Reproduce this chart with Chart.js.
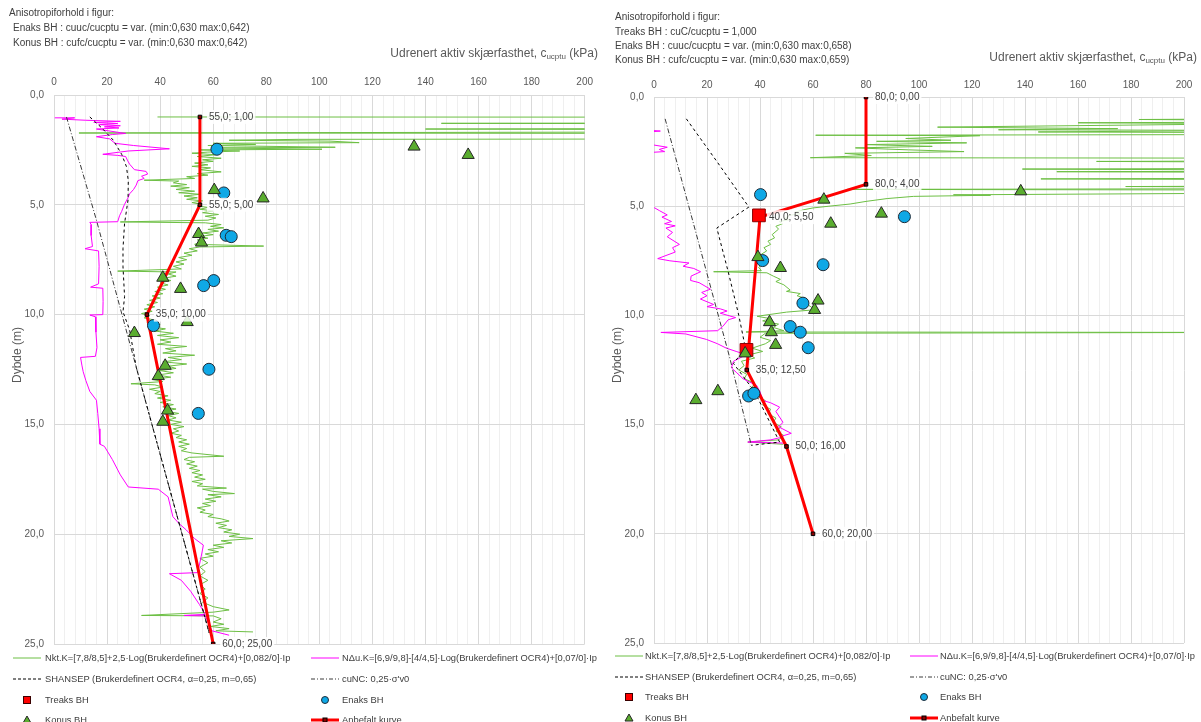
<!DOCTYPE html>
<html>
<head>
<meta charset="utf-8">
<script src="https://cdn.jsdelivr.net/npm/chart.js@4.4.1/dist/chart.umd.min.js"></script>
<style>
  html, body { margin: 0; padding: 0; background: #fff; }
  body { width: 1201px; height: 722px; position: relative; overflow: hidden;
         font-family: "Liberation Sans", Arial, sans-serif; }
  .panel { position: absolute; top: 0; height: 722px; }
  .panel canvas { position: absolute; left: 0; top: 0; }
  .hdr { position: absolute; font-size: 10px; color: #404040; white-space: nowrap; line-height: 12px; }
  .xt { position: absolute; font-size: 12px; color: #595959; white-space: nowrap; line-height: 14px; text-align: right; }
  .xt sub { font-size: 8px; vertical-align: -2px; line-height: 0; }
  .yt { position: absolute; font-size: 12px; color: #595959; white-space: nowrap; line-height: 14px;
        transform: translate(-50%, -50%) rotate(-90deg); }
  .lg { position: absolute; font-size: 9.35px; color: #404040; white-space: nowrap; line-height: 12px; }
  .sym { position: absolute; line-height: 0; }
  .sym svg { display: block; }
</style>
</head>
<body>
<div class="panel" id="pL" style="left:0;width:600px;">
  <canvas id="cL" width="600" height="722"></canvas>
  <div class="hdr" style="left:9px;top:7px;">Anisotropiforhold i figur:</div>
  <div class="hdr" style="left:13px;top:22px;">Enaks BH : cuuc/cucptu = var. (min:0,630 max:0,642)</div>
  <div class="hdr" style="left:13px;top:37px;">Konus BH : cufc/cucptu = var. (min:0,630 max:0,642)</div>
  <div class="xt" style="right:2px;top:46px;">Udrenert aktiv skjærfasthet, c<sub>ucptu</sub> (kPa)</div>
  <div class="yt" style="left:17px;top:355px;">Dybde (m)</div>
</div>
<div class="panel" id="pR" style="left:600px;width:601px;">
  <canvas id="cR" width="601" height="722"></canvas>
  <div class="hdr" style="left:15px;top:11px;">Anisotropiforhold i figur:</div>
  <div class="hdr" style="left:15px;top:26px;">Treaks BH : cuC/cucptu = 1,000</div>
  <div class="hdr" style="left:15px;top:40px;">Enaks BH : cuuc/cucptu = var. (min:0,630 max:0,658)</div>
  <div class="hdr" style="left:15px;top:54px;">Konus BH : cufc/cucptu = var. (min:0,630 max:0,659)</div>
  <div class="xt" style="right:4px;top:50px;">Udrenert aktiv skjærfasthet, c<sub>ucptu</sub> (kPa)</div>
  <div class="yt" style="left:17px;top:355px;">Dybde (m)</div>
</div>
<script>
// ---------- axis settings ----------
const xTickStep = 4;          // minor grid every 4 kPa
const xLabelStep = 20;        // labelled ticks
const xMin = 0, xMax = 200;
const yMin = 0, yMax = 25, yStep = 5;

// ---------- left profile (depth in m, strength in kPa) ----------
const leftRecV = [55, 55, 35, 60];
const leftRecD = [1, 5, 10, 25];

const leftEnaksV = [61.4, 64.0, 64.9, 66.8, 60.2, 56.4, 37.5, 58.4, 54.4];
const leftEnaksD = [2.47, 4.46, 6.39, 6.45, 8.45, 8.68, 10.5, 12.49, 14.5];

const leftKonusV = [135.7, 156.1, 60.4, 78.8, 54.5, 55.6, 41.0, 47.7, 50.2, 30.3, 41.9, 39.3, 42.8, 41.0];
const leftKonusD = [2.35, 2.73, 4.33, 4.71, 6.33, 6.72, 8.32, 8.83, 10.34, 10.84, 12.33, 12.8, 14.37, 14.88];

const leftShansep = [[13.5,1.0],[18,1.5],[22.3,2.05],[25.5,2.7],[27.3,3.26],[28,3.9],[27.9,4.78],[26.6,5.84],[26,7.0],[26,7.82],[26.6,9.18],[26,9.87],[28.5,10.7],[31,12.4],[58.5,24.5]];
const leftCuNC = [[4.7,1.0],[16,5.7],[31,12.4],[58.5,24.5]];

const leftNdu = [[0.3,1.04],[7.8,1.04],[3,1.1],[12,1.15],[25,1.2],[15,1.25],[24,1.3],[17,1.35],[25,1.4],[19,1.45],[24.5,1.5],[16,1.55],[27,1.75],[22,1.8],[16,1.9],[21,2.0],[23,2.2],[30,2.3],[43.5,2.45],[28,2.55],[18.4,2.7],[24,2.75],[27,2.8],[27.8,3.0],[28.5,3.15],[30.3,3.4],[34.7,3.48],[35.3,3.6],[33,3.7],[34,3.8],[31.6,3.9],[31,4.1],[30,4.3],[28.5,4.5],[27.8,4.7],[26.5,5.0],[25.5,5.3],[24.7,5.5],[24,5.77],[13.5,5.8],[14,5.9],[14,6.4],[14.5,6.9],[11.7,7.0],[16.8,7.1],[17,7.8],[16.8,8.6],[13.8,8.75],[18.4,8.8],[18.5,9.4],[18.4,10.0],[13.5,10.02],[15.6,10.1],[15.8,10.8],[16.2,11.5],[15.6,11.9],[10,11.95],[10.5,12.3],[11,12.6],[12,13.0],[13.5,13.5],[16,13.9],[16.5,14.5],[17,15.2],[17.3,15.9],[19,16.0],[22,16.6],[25,17.3],[28,17.85],[39.3,17.95],[43,18.3],[44,18.8],[44.8,19.2],[47,19.5],[49.8,19.8],[53,20.2],[56.3,20.5],[55.5,21.0],[54.8,21.4],[54,21.75],[43.5,21.8],[48,22.1],[51.5,22.6],[54.8,23.2],[57,23.65],[49,23.7],[57,23.72],[59.5,24.4],[66,24.6]];

const leftNkt = [[39,1.00],[262,1.01],[262,1.27],[146,1.29],[262,1.31],[262,1.52],[140,1.55],[262,1.58],[262,1.68],[9.4,1.73],[262,1.75],[262,2.0],[92,2.02],[66,2.06],[104,2.1],[115,2.17],[60,2.2],[76,2.25],[58,2.3],[106,2.38],[62,2.41],[101,2.47],[55,2.5],[70,2.55],[58,2.6],[52,2.65],[61,2.72],[54,2.8],[63,2.88],[56,2.95],[60,3.02],[53,3.1],[58,3.18],[52,3.25],[59,3.32],[55,3.4],[63,3.5],[54,3.58],[58,3.65],[50,3.72],[53,3.8],[34,3.88],[47,3.92],[45,4.0],[50,4.08],[44,4.15],[51,4.22],[46,4.3],[53,4.38],[47,4.45],[55,4.52],[49,4.6],[54,4.68],[50,4.75],[56,4.82],[52,4.9],[55,4.97],[54,5.05],[58,5.12],[55,5.2],[60,5.28],[56,5.36],[62,5.44],[57,5.52],[61,5.6],[58,5.7],[25,5.78],[57,5.82],[63,5.9],[59,5.98],[64,6.05],[58,6.12],[62,6.2],[56,6.28],[60,6.36],[55,6.44],[58,6.52],[54,6.6],[57,6.68],[53,6.8],[79,6.88],[55,6.92],[51,7.0],[54,7.1],[49,7.2],[52,7.3],[47,7.4],[50,7.5],[46,7.6],[49,7.7],[45,7.8],[48,7.92],[24,8.02],[46,8.06],[43,8.15],[46,8.25],[41,8.35],[44,8.45],[40,8.55],[43,8.65],[39,8.75],[42,8.85],[38,8.95],[41,9.05],[37,9.15],[40,9.25],[36,9.35],[39,9.45],[35,9.55],[38,9.65],[34,9.75],[37,9.85],[33,9.95],[36,10.05],[34,10.15],[38,10.25],[35,10.35],[40,10.45],[36,10.55],[42,10.65],[38,10.75],[45,10.85],[39,10.95],[47,11.05],[40,11.15],[44,11.25],[39,11.35],[50,11.45],[42,11.55],[46,11.65],[41,11.75],[53,11.85],[43,11.95],[48,12.05],[41,12.15],[50,12.25],[43,12.35],[46,12.45],[40,12.55],[45,12.65],[39,12.75],[44,12.85],[37,12.95],[41,13.05],[29,13.15],[38,13.2],[41,13.3],[36,13.4],[40,13.5],[38,13.6],[43,13.7],[39,13.8],[44,13.9],[40,14.0],[45,14.1],[41,14.2],[46,14.3],[42,14.4],[47,14.5],[43,14.6],[46,14.7],[43,14.8],[48,14.9],[44,15.0],[49,15.1],[45,15.2],[47,15.3],[44,15.4],[48,15.5],[46,15.6],[50,15.7],[47,15.8],[51,15.9],[47,16.0],[50,16.1],[48,16.2],[52,16.3],[64,16.45],[51,16.5],[49,16.6],[53,16.7],[50,16.8],[54,16.9],[51,17.0],[55,17.1],[52,17.2],[56,17.3],[53,17.4],[57,17.5],[52,17.6],[56,17.7],[54,17.8],[65,17.9],[56,17.95],[60,18.05],[68,18.15],[58,18.2],[63,18.3],[57,18.4],[61,18.5],[56,18.6],[59,18.7],[54,18.8],[57,18.9],[55,19.0],[60,19.1],[58,19.2],[63,19.3],[66,19.4],[61,19.5],[65,19.6],[62,19.7],[67,19.8],[64,19.9],[70,20.0],[66,20.1],[75,20.2],[63,20.3],[67,20.4],[60,20.5],[64,20.6],[58,20.7],[62,20.8],[57,20.9],[60,21.0],[55,21.1],[58,21.3],[55,21.5],[57,21.7],[55,21.9],[58,22.1],[55,22.3],[57,22.5],[55,22.7],[58,22.9],[56,23.1],[60,23.3],[66,23.45],[60,23.55],[33,23.7],[60,23.72],[63,23.85],[60,24.0],[64,24.1],[59,24.2],[66,24.3],[61,24.4],[75,24.45]];

// ---------- right profile ----------
const rightRecV = [80, 80, 40, 35, 50, 60];
const rightRecD = [0, 4, 5.5, 12.5, 16, 20];

const rightTreaksV = [39.6, 34.9];
const rightTreaksD = [5.42, 11.58];

const rightEnaksV = [40.2, 41.0, 63.8, 56.2, 51.4, 55.2, 58.2, 94.5, 35.7, 37.7];
const rightEnaksD = [4.47, 7.49, 7.68, 9.44, 10.51, 10.77, 11.48, 5.48, 13.69, 13.57];

const rightKonusV = [64.1, 85.8, 66.7, 39.2, 47.7, 61.9, 60.6, 43.6, 44.3, 45.9, 34.4, 138.4, 15.8, 24.1];
const rightKonusD = [4.70, 5.34, 5.80, 7.33, 7.83, 9.32, 9.75, 10.31, 10.77, 11.35, 11.74, 4.32, 13.88, 13.47];

const rightShansep = [[12.2,1.0],[24,3.0],[35.8,5.04],[23.7,6.0],[28,8.0],[32,10.0],[34.5,11.5],[30,12.2],[38,13.5],[47.4,15.8],[36.7,15.95]];
const rightCuNC = [[4.2,1.0],[28.5,11.9],[36.7,15.94]];

const rightNdu = [[-10,1.0],[-4,1.5],[2.4,1.56],[-2,1.6],[-8,2.0],[0,2.2],[5,2.3],[2,2.4],[4,2.5],[-3,2.55],[-12,3.0],[-12,4.5],[-2,5.0],[0.3,5.08],[2,5.2],[5,5.4],[3,5.5],[6.6,5.7],[4,5.8],[8,5.9],[4.5,6.0],[7,6.2],[5,6.4],[9.6,6.75],[7,6.9],[8,7.1],[1.4,7.4],[6,7.5],[13.2,7.6],[11,7.75],[15,7.85],[17.6,8.0],[14,8.2],[13.8,8.4],[17,8.5],[21.3,8.8],[18,8.95],[20,9.1],[17.5,9.25],[22.5,9.5],[20,9.6],[25,9.7],[27.6,9.8],[25,9.9],[30.8,10.1],[28,10.2],[26,10.5],[24,10.7],[2.6,10.78],[12,10.85],[19.8,11.1],[24,11.3],[27.3,11.5],[31,11.65],[34.8,11.8],[30,12.1],[29.2,12.4],[31,12.6],[33.6,12.9],[36,13.05],[38.7,13.2],[40,13.5],[41.2,13.9],[44,14.0],[47.4,14.2],[46,14.4],[48.7,14.9],[47,15.1],[51.8,15.4],[49,15.5],[47.4,15.6],[44,15.7],[35.4,15.8],[49.9,15.85]];

const rightNkt = [[230,1.0],[183,1.03],[230,1.06],[230,1.15],[160,1.18],[230,1.22],[107,1.38],[175,1.45],[130,1.5],[230,1.53],[145,1.6],[230,1.63],[230,1.72],[61,1.75],[123,1.77],[95,1.9],[112,1.98],[84,2.03],[118,2.1],[80,2.18],[105,2.26],[76,2.33],[96,2.42],[117,2.5],[72,2.58],[82,2.68],[59,2.78],[230,2.8],[230,2.93],[167,2.95],[230,2.98],[230,3.27],[139,3.3],[230,3.34],[230,3.4],[152,3.42],[230,3.45],[230,3.72],[146,3.75],[230,3.78],[230,4.08],[178,4.1],[230,4.12],[230,4.2],[73,4.23],[230,4.26],[230,4.4],[113,4.48],[127,4.5],[98,4.55],[88,4.65],[80,4.78],[74,4.9],[66,5.0],[60,5.08],[57,5.15],[53,5.28],[55,5.35],[51,5.42],[49.5,5.55],[51,5.62],[47.2,5.7],[48.5,5.8],[46,5.92],[47,6.05],[44.6,6.3],[45.5,6.45],[43,6.6],[44,6.75],[41.5,6.9],[42.5,7.05],[40.5,7.2],[41.5,7.35],[40,7.5],[41,7.65],[39.5,7.8],[40.5,7.95],[22.5,8.0],[42.6,8.05],[45,8.2],[47.7,8.35],[46,8.45],[49,8.6],[51.4,8.84],[50,8.9],[55.2,9.0],[54,9.1],[56.5,9.2],[55,9.3],[57.7,9.43],[58.5,9.55],[60.9,9.74],[50,9.85],[38.9,10.04],[44,10.15],[41,10.25],[47,10.4],[45,10.55],[49,10.7],[34.7,10.76],[230,10.78],[42,10.82],[40,11.0],[44,11.15],[42,11.3],[37,11.5],[41,11.65],[36,11.8],[38,11.95],[33,12.1],[34,12.3],[32,12.5],[35,12.7],[34,12.9],[38,13.1],[37,13.3],[40,13.5],[39,13.7],[42,13.9],[41,14.1],[44,14.3],[43,14.5],[46,14.7],[45,14.9],[48,15.1],[46,15.3],[49,15.5],[47,15.7],[35.4,15.8],[48.7,15.9]];

// ---------- helpers ----------
const FONT = '"Liberation Sans", Arial, sans-serif';
const pairs = (vs, ds) => vs.map((v, i) => ({ x: v, y: ds[i] }));
const pts = (arr) => arr.map(p => ({ x: p[0], y: p[1] }));
const comma = (n, dec) => n.toFixed(dec).replace('.', ',');

// writes "x; depth" next to every vertex of the recommended curve
const vertexLabels = {
  id: 'vertexLabels',
  afterDatasetsDraw(chart) {
    const ctx = chart.ctx;
    chart.data.datasets.forEach((ds, i) => {
      if (!ds.vertexLabels) return;
      chart.getDatasetMeta(i).data.forEach((el, j) => {
        const p = ds.data[j];
        const txt = comma(p.x, 1) + '; ' + comma(p.y, 2);
        ctx.save();
        ctx.font = '10px ' + FONT;
        const w = ctx.measureText(txt).width;
        const tx = el.x + 9, ty = el.y;
        ctx.fillStyle = 'rgba(255,255,255,0.85)';
        ctx.fillRect(tx - 2, ty - 7, w + 4, 14);
        ctx.fillStyle = '#404040';
        ctx.textBaseline = 'middle';
        ctx.fillText(txt, tx, ty);
        ctx.restore();
      });
    });
  }
};

function buildChart(canvas, area, d) {
  const datasets = [
    { label: 'Konus BH', data: d.konus, pointStyle: 'triangle', pointRadius: 7,
      pointBackgroundColor: '#5aad2f', pointBorderColor: '#262626', pointBorderWidth: 1, showLine: false },
    { label: 'Enaks BH', data: d.enaks, pointStyle: 'circle', pointRadius: 6,
      pointBackgroundColor: '#0fa8e6', pointBorderColor: '#1d2b38', pointBorderWidth: 1, showLine: false },
  ];
  if (d.treaks) {
    datasets.push({ label: 'Treaks BH', data: d.treaks, pointStyle: 'rect', pointRadius: 9,
      pointBackgroundColor: '#ff0000', pointBorderColor: '#8b0000', pointBorderWidth: 1, showLine: false });
  }
  datasets.push(
    { label: 'Anbefalt kurve', data: d.rec, showLine: true, borderColor: '#ff0000', borderWidth: 3,
      pointStyle: 'rect', pointRadius: 2.5, pointBackgroundColor: '#8b0000', pointBorderColor: '#000', pointBorderWidth: 1,
      vertexLabels: true },
    { label: 'SHANSEP', data: d.shansep, showLine: true, borderColor: '#000', borderWidth: 1,
      borderDash: [3, 3], pointRadius: 0 },
    { label: 'cuNC', data: d.cunc, showLine: true, borderColor: '#3a3a3a', borderWidth: 1,
      borderDash: [5, 2, 1, 2], pointRadius: 0 },
    { label: 'NΔu', data: d.ndu, showLine: true, borderColor: '#ff00ff', borderWidth: 1, pointRadius: 0 },
    { label: 'Nkt', data: d.nkt, showLine: true, borderColor: '#6dbf44', borderWidth: 1, pointRadius: 0 }
  );

  return new Chart(canvas, {
    type: 'scatter',
    data: { datasets },
    plugins: [vertexLabels],
    options: {
      responsive: false,
      animation: false,
      events: [],
      layout: { padding: { left: 0, top: 0, right: area.padRight, bottom: area.padBottom } },
      plugins: { legend: { display: false }, tooltip: { enabled: false } },
      elements: { line: { tension: 0 } },
      scales: {
        x: {
          type: 'linear', position: 'top', min: xMin, max: xMax,
          afterFit: (s) => { s.height = area.top; },
          ticks: {
            stepSize: xTickStep, maxTicksLimit: 200, autoSkip: false, maxRotation: 0,
            padding: area.xPad, color: '#595959', font: { family: FONT, size: 10 },
            callback: (v) => (v % xLabelStep === 0 ? String(v) : '')
          },
          grid: {
            drawTicks: false, lineWidth: 1,
            color: (c) => (c.tick && c.tick.value % xLabelStep === 0 ? '#d9d9d9' : '#efefef')
          },
          border: { display: true, color: '#d9d9d9' }
        },
        y: {
          type: 'linear', reverse: true, min: yMin, max: yMax,
          afterFit: (s) => { s.width = area.left; },
          ticks: { stepSize: yStep, padding: 10, color: '#595959', font: { family: FONT, size: 10 },
                   callback: (v) => comma(v, 1) },
          grid: { drawTicks: false, color: '#d9d9d9' },
          border: { display: true, color: '#d9d9d9' }
        }
      }
    }
  });
}

buildChart(document.getElementById('cL'),
  { left: 54, top: 95, padRight: 13, padBottom: 78, xPad: 7 },
  {
    rec: pairs(leftRecV, leftRecD),
    enaks: pairs(leftEnaksV, leftEnaksD),
    konus: pairs(leftKonusV, leftKonusD),
    shansep: pts(leftShansep), cunc: pts(leftCuNC),
    ndu: pts(leftNdu), nkt: pts(leftNkt)
  });

buildChart(document.getElementById('cR'),
  { left: 54, top: 97, padRight: 17, padBottom: 79, xPad: 6 },
  {
    rec: pairs(rightRecV, rightRecD),
    treaks: pairs(rightTreaksV, rightTreaksD),
    enaks: pairs(rightEnaksV, rightEnaksD),
    konus: pairs(rightKonusV, rightKonusD),
    shansep: pts(rightShansep), cunc: pts(rightCuNC),
    ndu: pts(rightNdu), nkt: pts(rightNkt)
  });

// ---------- legends (two columns under each plot) ----------
const legendText = [
  ['line-green', 'Nkt.K=[7,8/8,5]+2,5·Log(Brukerdefinert OCR4)+[0,082/0]·Ip'],
  ['line-magenta', 'NΔu.K=[6,9/9,8]-[4/4,5]·Log(Brukerdefinert OCR4)+[0,07/0]·Ip'],
  ['dash', 'SHANSEP (Brukerdefinert OCR4, α=0,25, m=0,65)'],
  ['dashdot', 'cuNC: 0,25·σ\'v0'],
  ['square', 'Treaks BH'],
  ['circle', 'Enaks BH'],
  ['triangle', 'Konus BH'],
  ['rec', 'Anbefalt kurve']
];

function symbolSvg(kind) {
  const w = 28, h = 10, m = h / 2;
  let body = '';
  if (kind === 'line-green') body = `<line x1="0" y1="${m}" x2="${w}" y2="${m}" stroke="#6dbf44" stroke-width="1"/>`;
  if (kind === 'line-magenta') body = `<line x1="0" y1="${m}" x2="${w}" y2="${m}" stroke="#ff00ff" stroke-width="1"/>`;
  if (kind === 'dash') body = `<line x1="0" y1="${m}" x2="${w}" y2="${m}" stroke="#000" stroke-width="1" stroke-dasharray="3,2"/>`;
  if (kind === 'dashdot') body = `<line x1="0" y1="${m}" x2="${w}" y2="${m}" stroke="#3a3a3a" stroke-width="1" stroke-dasharray="4,2,1,2"/>`;
  if (kind === 'square') body = `<rect x="${w/2-3.5}" y="${m-3.5}" width="7" height="7" fill="#ff0000" stroke="#3a0000" stroke-width="1"/>`;
  if (kind === 'circle') body = `<circle cx="${w/2}" cy="${m}" r="3.5" fill="#0fa8e6" stroke="#1d2b38" stroke-width="1"/>`;
  if (kind === 'triangle') body = `<polygon points="${w/2},${m-4} ${w/2+4},${m+3} ${w/2-4},${m+3}" fill="#5aad2f" stroke="#262626" stroke-width="1"/>`;
  if (kind === 'rec') body = `<line x1="0" y1="${m}" x2="${w}" y2="${m}" stroke="#ff0000" stroke-width="3"/><rect x="${w/2-2}" y="${m-2}" width="4" height="4" fill="#8b0000" stroke="#000" stroke-width="1"/>`;
  return `<svg width="${w}" height="${h}" viewBox="0 0 ${w} ${h}">${body}</svg>`;
}

function buildLegend(panelId, cols, rows) {
  const panel = document.getElementById(panelId);
  legendText.forEach(([kind, text], i) => {
    const c = i % 2, r = Math.floor(i / 2);
    const sym = document.createElement('div');
    sym.className = 'sym';
    sym.style.left = cols[c].sym + 'px';
    sym.style.top = (rows[r] - 5) + 'px';
    sym.innerHTML = symbolSvg(kind);
    panel.appendChild(sym);
    const t = document.createElement('div');
    t.className = 'lg';
    t.style.left = cols[c].text + 'px';
    t.style.top = (rows[r] - 6) + 'px';
    t.textContent = text;
    panel.appendChild(t);
  });
}

buildLegend('pL', [{ sym: 13, text: 45 }, { sym: 311, text: 342 }], [658, 679, 700, 720]);
buildLegend('pR', [{ sym: 15, text: 45 }, { sym: 310, text: 340 }], [656, 677, 697, 718]);
</script>
</body>
</html>
